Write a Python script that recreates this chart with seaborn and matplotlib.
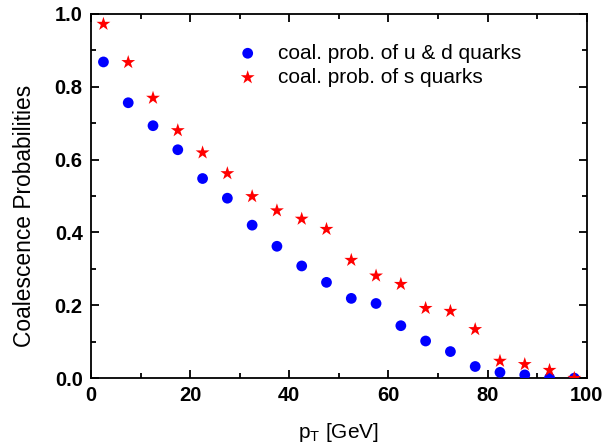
import numpy as np
import pandas as pd
import matplotlib
matplotlib.use("Agg")
import matplotlib.pyplot as plt
import seaborn as sns
from matplotlib.ticker import MultipleLocator

# transverse momentum bin centres
pt = [2.5, 7.5, 12.5, 17.5, 22.5, 27.5, 32.5, 37.5, 42.5, 47.5,
      52.5, 57.5, 62.5, 67.5, 72.5, 77.5, 82.5, 87.5, 92.5, 97.5]

# coalescence probabilities
prob_ud = [0.868, 0.756, 0.693, 0.627, 0.548, 0.494, 0.420, 0.362, 0.308, 0.263,
           0.219, 0.205, 0.144, 0.102, 0.073, 0.032, 0.016, 0.009, 0.001, 0.0]
prob_s = [0.972, 0.867, 0.769, 0.680, 0.619, 0.562, 0.499, 0.460, 0.437, 0.409,
          0.324, 0.281, 0.258, 0.192, 0.184, 0.134, 0.047, 0.038, 0.022, 0.0]

label_ud = "coal. prob. of u & d quarks"
label_s = "coal. prob. of s quarks"

df_ud = pd.DataFrame({"pT": pt, "prob": prob_ud})
df_s = pd.DataFrame({"pT": pt, "prob": prob_s})

sns.set_style("ticks")
plt.rcParams["font.family"] = ["Liberation Sans", "DejaVu Sans"]
plt.rcParams["text.color"] = "black"
plt.rcParams["axes.labelcolor"] = "black"

fig = plt.figure(figsize=(6.03, 4.47), dpi=100)
ax = fig.add_axes([0.151, 0.154, 0.822, 0.815])

sns.scatterplot(data=df_ud, x="pT", y="prob", ax=ax, color="#0000ff", marker="o",
                s=60, edgecolor="none", label=label_ud, zorder=3)
sns.scatterplot(data=df_s, x="pT", y="prob", ax=ax, color="#ff0000", marker="*",
                s=110, edgecolor="none", label=label_s, zorder=4)

ax.set_xlim(0, 100)
ax.set_ylim(0, 1.0)
ax.xaxis.set_major_locator(MultipleLocator(20))
ax.xaxis.set_minor_locator(MultipleLocator(10))
ax.yaxis.set_major_locator(MultipleLocator(0.2))
ax.yaxis.set_minor_locator(MultipleLocator(0.1))
ax.yaxis.set_major_formatter(matplotlib.ticker.FormatStrFormatter("%.1f"))

ax.tick_params(which="both", direction="in", top=True, right=True, width=1.3,
               colors="black", labelcolor="black")
ax.tick_params(which="major", length=6, labelsize=14.5, pad=6)
ax.tick_params(which="minor", length=3.5)
for lab in ax.get_xticklabels() + ax.get_yticklabels():
    lab.set_fontweight("bold")
for sp in ax.spines.values():
    sp.set_linewidth(1.3)
    sp.set_color("black")

ax.set_xlabel("p$_\\mathregular{T}$ [GeV]", fontsize=15, labelpad=11)
ax.set_ylabel("Coalescence Probabilities", fontsize=16.4)
ax.yaxis.set_label_coords(-0.111, 0.445)

leg = ax.legend(loc="upper left", bbox_to_anchor=(0.274, 0.918), frameon=False, fontsize=15,
                handletextpad=0.45, labelspacing=0.25, borderaxespad=0, borderpad=0)
for t in leg.get_texts():
    t.set_color("black")

fig.savefig("out.png", dpi=100)
